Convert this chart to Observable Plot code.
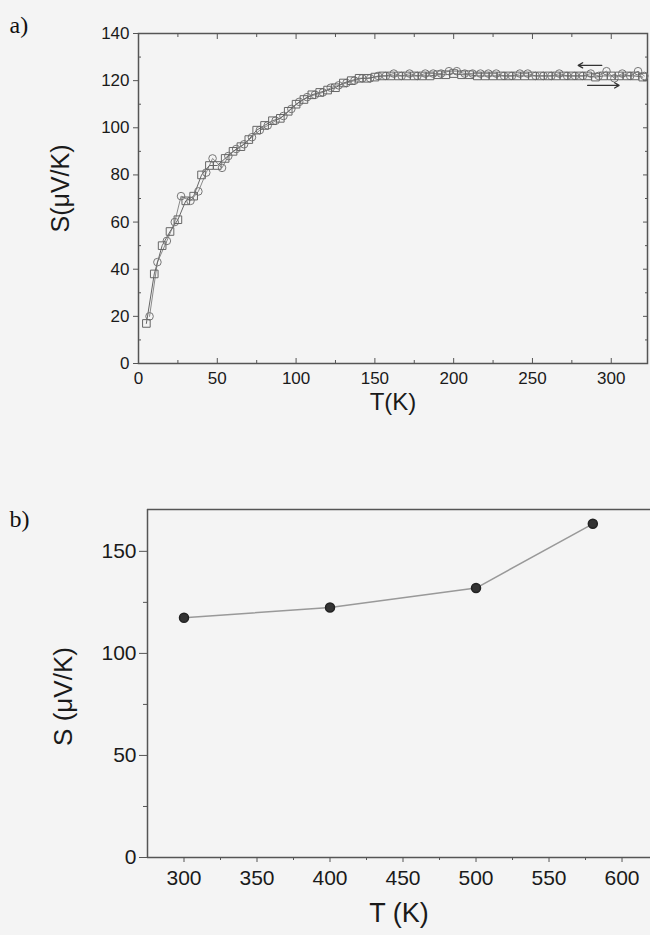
<!DOCTYPE html>
<html><head><meta charset="utf-8">
<script src="https://cdn.jsdelivr.net/npm/d3@7"></script>
<script src="https://cdn.jsdelivr.net/npm/@observablehq/plot@0.6"></script>
<style>
body{margin:0;background:#f4f4f4;}
#chart svg{display:block;background:transparent;}
</style></head><body><div id="chart"></div>
<script>
// Panel a: heating (squares) and cooling (circles)
const heatT = [5, 10, 15, 20, 25, 30, 35, 40, 45, 50, 55, 60, 65, 70, 75, 80, 85, 90, 95, 100, 105, 110, 115, 120, 125, 130, 135, 140, 145, 150, 155, 160, 165, 170, 175, 180, 185, 190, 195, 200, 205, 210, 215, 220, 225, 230, 235, 240, 245, 250, 255, 260, 265, 270, 275, 280, 285, 290, 295, 300, 305, 310, 315, 320];
const heatS = [17, 38, 50, 56, 61, 69, 71, 80, 84, 84, 87, 90, 92, 95, 99, 101, 103, 104, 107, 110, 112, 114, 115, 116, 117, 119, 120, 121, 121, 121.5, 122, 122, 122, 122, 122, 122, 122, 122.5, 122.5, 123, 122.5, 122.5, 122, 122, 122, 122, 122, 122, 122, 122, 122, 122, 122, 122, 122, 122, 122, 121.5, 122, 122, 122, 122, 122, 121.5];
const coolT = [7, 12, 18, 23, 27, 33, 38, 43, 47, 53, 57, 62, 67, 72, 77, 82, 87, 92, 97, 102, 107, 112, 117, 122, 127, 132, 137, 142, 147, 152, 157, 162, 167, 172, 177, 182, 187, 192, 197, 202, 207, 212, 217, 222, 227, 232, 237, 242, 247, 252, 257, 262, 267, 272, 277, 282, 287, 292, 297, 302, 307, 312, 317, 321];
const coolS = [20, 43, 52, 60, 71, 69, 73, 81, 87, 83, 88, 91, 93, 96, 99, 101, 103, 105, 108, 111, 113, 114, 115, 117, 118, 119, 120, 121, 121, 122, 122, 123, 122, 123, 122, 123, 123, 123, 124, 124, 123, 123, 123, 123, 123, 122, 122, 123, 123, 122, 122, 122, 123, 122, 122, 122, 123, 122, 124, 121, 123, 122, 124, 122];
// direction arrows (start T, end T, S)
const arrowT1 = [294, 285];
const arrowT2 = [279, 305];
const arrowS = [126.5, 118];
// Panel b
const bT = [300, 400, 500, 580];
const bS = [117.5, 122.5, 132, 163.5];

// ticks
const aXTicks = [0, 50, 100, 150, 200, 250, 300];
const aXMinor = [25, 75, 125, 175, 225, 275];
const aYTicks = [0, 20, 40, 60, 80, 100, 120, 140];
const aYMinor = [10, 30, 50, 70, 90, 110, 130];
const bXTicks = [300, 350, 400, 450, 500, 550, 600];
const bXMinor = [325, 375, 425, 475, 525, 575];
const bYTicks = [0, 50, 100, 150];
const bYMinor = [25, 75, 125];
const aDomainX = [0, 323], aDomainY = [0, 140];
const bDomainX = [275, 619.5], bDomainY = [0, 170.5];

const heat = heatT.map((t, i) => ({T: t, S: heatS[i]}));
const cool = coolT.map((t, i) => ({T: t, S: coolS[i]}));
const arrows = arrowT1.map((t, i) => ({x1: t, x2: arrowT2[i], y: arrowS[i]}));
const bData = bT.map((t, i) => ({T: t, S: bS[i]}));

const font = "Liberation Sans, Arial, sans-serif";
const serif = "Liberation Serif, Times New Roman, serif";
const axisCol = "#555";
const txtCol = "#1a1a1a";

const plotA = Plot.plot({
  width: 650, height: 470,
  marginLeft: 138, marginTop: 33, marginRight: 3, marginBottom: 107,
  style: {fontFamily: font, background: "transparent", color: txtCol},
  x: {domain: aDomainX},
  y: {domain: aDomainY},
  marks: [
    Plot.frame({stroke: axisCol, strokeWidth: 1.5}),
    Plot.axisY({ticks: aYTicks, tickSize: 5, tickPadding: 4, fontSize: 17, label: null, stroke: axisCol}),
    Plot.axisY({ticks: aYMinor, tickSize: -3, text: null, label: null, stroke: axisCol}),
    Plot.axisY({anchor: "right", ticks: aYTicks, tickSize: -5, text: null, label: null, stroke: axisCol}),
    Plot.axisY({anchor: "right", ticks: aYMinor, tickSize: -3, text: null, label: null, stroke: axisCol}),
    Plot.axisX({ticks: aXTicks, tickSize: 0, tickPadding: 8, fontSize: 17, label: null}),
    Plot.axisX({ticks: aXTicks, tickSize: -5, text: null, label: null, stroke: axisCol}),
    Plot.axisX({ticks: aXMinor, tickSize: -3, text: null, label: null, stroke: axisCol}),
    Plot.axisX({anchor: "top", ticks: aXTicks, tickSize: -5, text: null, label: null, stroke: axisCol}),
    Plot.axisX({anchor: "top", ticks: aXMinor, tickSize: -3, text: null, label: null, stroke: axisCol}),
    Plot.line(cool, {x: "T", y: "S", stroke: "#8a8a8a", strokeWidth: 1}),
    Plot.line(heat, {x: "T", y: "S", stroke: "#666", strokeWidth: 1}),
    Plot.dot(cool, {x: "T", y: "S", r: 3.8, stroke: "#777", strokeWidth: 1, fill: "none"}),
    Plot.dot(heat, {x: "T", y: "S", r: 4.3, symbol: "square", stroke: "#666", strokeWidth: 1, fill: "none"}),
    Plot.arrow(arrows, {x1: "x1", x2: "x2", y1: "y", y2: "y", stroke: "#333", strokeWidth: 1.3, headLength: 6}),
    Plot.text(["S(μV/K)"], {text: d => d, frameAnchor: "left", textAnchor: "middle", lineAnchor: "middle", dx: -78, dy: -10, rotate: -90, fontSize: 25, fill: txtCol}),
    Plot.text(["T(K)"], {text: d => d, frameAnchor: "bottom", textAnchor: "middle", lineAnchor: "middle", dy: 39, fontSize: 24, fill: txtCol}),
    Plot.text(["a)"], {text: d => d, frameAnchor: "top-left", dx: -129, dy: -8, textAnchor: "start", lineAnchor: "middle", fontSize: 24, fontFamily: serif, fill: "#111"})
  ]
});

const plotB = Plot.plot({
  width: 650, height: 465,
  marginLeft: 147, marginTop: 39, marginRight: 0, marginBottom: 78,
  style: {fontFamily: font, background: "transparent", color: txtCol},
  x: {domain: bDomainX},
  y: {domain: bDomainY},
  marks: [
    Plot.ruleX([bDomainX[0]], {stroke: axisCol, strokeWidth: 1.5}),
    Plot.ruleY([bDomainY[0], bDomainY[1]], {stroke: axisCol, strokeWidth: 1.5}),
    Plot.axisY({ticks: bYTicks, tickSize: 8, tickPadding: 3, fontSize: 21, label: null, stroke: axisCol}),
    Plot.axisY({ticks: bYMinor, tickSize: 4, text: null, label: null, stroke: axisCol}),
    Plot.axisX({ticks: bXTicks, tickSize: 5, tickPadding: 8, fontSize: 21, label: null, stroke: axisCol}),
    Plot.axisX({ticks: bXMinor, tickSize: 3, text: null, label: null, stroke: axisCol}),
    Plot.line(bData, {x: "T", y: "S", stroke: "#999", strokeWidth: 1.5}),
    Plot.dot(bData, {x: "T", y: "S", r: 4.5, fill: "#333", stroke: "#222"}),
    Plot.text(["S (μV/K)"], {text: d => d, frameAnchor: "left", textAnchor: "middle", lineAnchor: "middle", dx: -84, dy: 13, rotate: -90, fontSize: 26, fill: txtCol}),
    Plot.text(["T (K)"], {text: d => d, frameAnchor: "bottom", textAnchor: "middle", lineAnchor: "middle", dy: 56, fontSize: 27, fill: txtCol}),
    Plot.text(["b)"], {text: d => d, frameAnchor: "top-left", dx: -138, dy: 10, textAnchor: "start", lineAnchor: "middle", fontSize: 24, fontFamily: serif, fill: "#111"})
  ]
});

document.getElementById("chart").append(plotA, plotB);
</script></body></html>
